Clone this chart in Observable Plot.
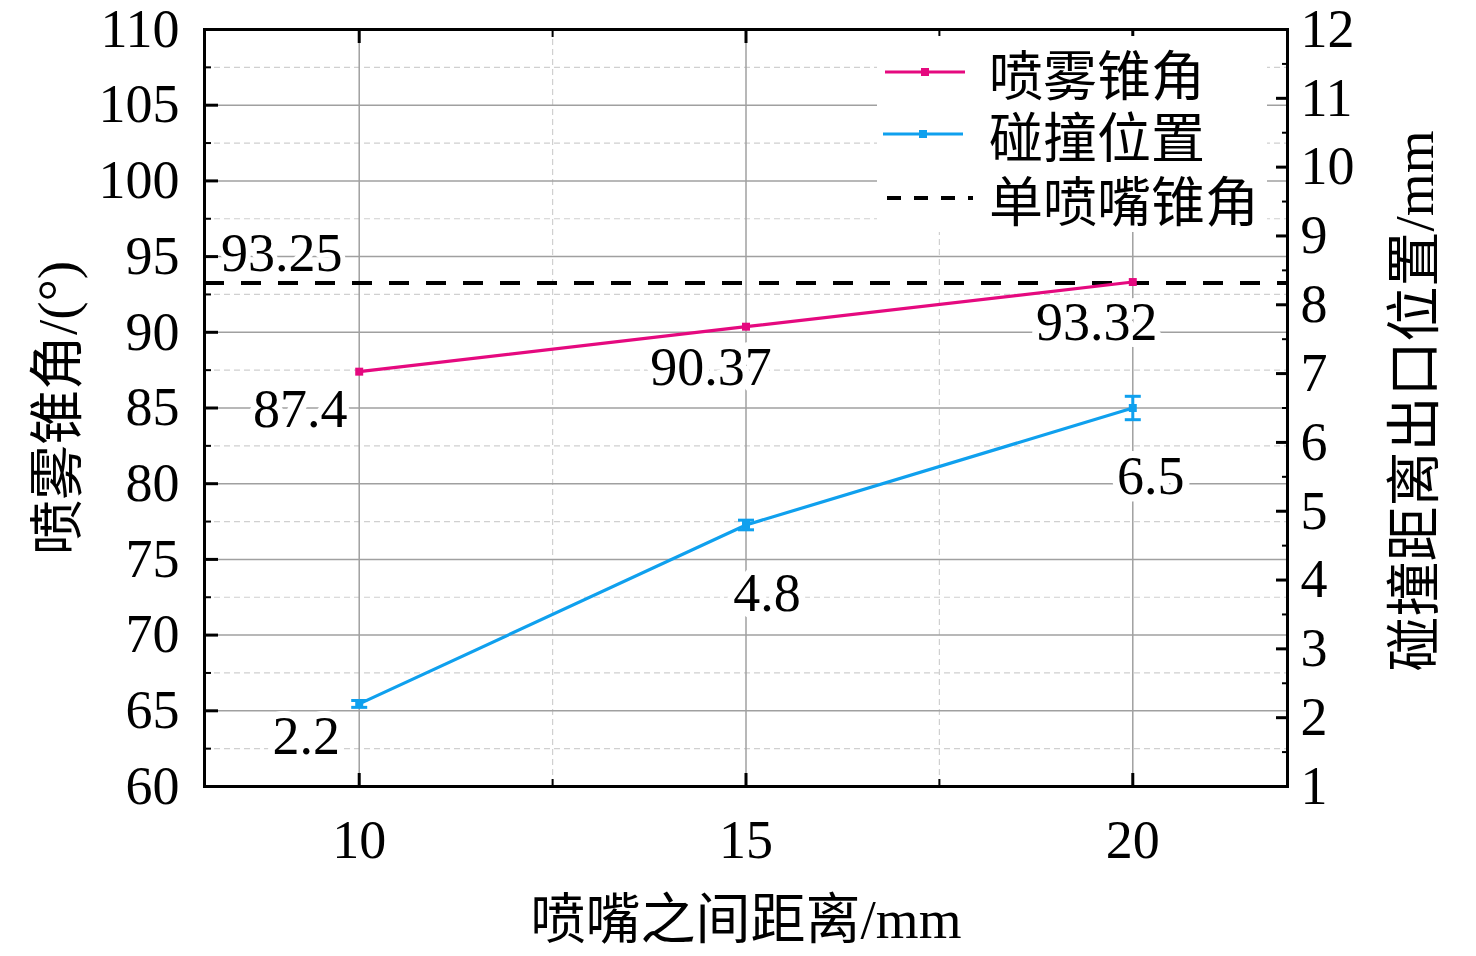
<!DOCTYPE html>
<html>
<head>
<meta charset="utf-8">
<script src="https://cdn.jsdelivr.net/npm/d3@7"></script>
<script src="https://cdn.jsdelivr.net/npm/@observablehq/plot@0.6"></script>
<style>
  body { margin: 0; background: #fff; }
  #wrap { position: relative; width: 1476px; height: 956px; }
  #legend { position: absolute; left: 877px; top: 36px; width: 390px; height: 196px; background: #fff;
    font-family: "Liberation Serif", "Noto Sans CJK SC", serif; font-size: 54px; color: #000; }
  #legend .row { position: absolute; left: 0; height: 60px; display: flex; align-items: center; }
  #legend svg { width: 100px; height: 20px; margin-right: 12px; }
</style>
</head>
<body>
<div id="wrap"><div id="legend"></div></div>
<script>
// ---- data ----
const distances = [10, 15, 20];
const sprayAngle = [87.4, 90.37, 93.32];
const impactPos = [2.2, 4.8, 6.5];
const impactErr = [0.05, 0.07, 0.17];
const singleNozzleAngle = 93.25;
const angleLabels = ["87.4", "90.37", "93.32"];
const posLabels = ["2.2", "4.8", "6.5"];
const singleLabel = "93.25";
const xTicks = [10, 15, 20];
const xMinorTicks = [12.5, 17.5];
const yLeftTicks = [60, 65, 70, 75, 80, 85, 90, 95, 100, 105, 110];
const yLeftMinorTicks = [62.5, 67.5, 72.5, 77.5, 82.5, 87.5, 92.5, 97.5, 102.5, 107.5];
const yRightTicks = [1, 2, 3, 4, 5, 6, 7, 8, 9, 10, 11, 12];
const yRightMinorTicks = [1.5, 2.5, 3.5, 4.5, 5.5, 6.5, 7.5, 8.5, 9.5, 10.5, 11.5];
const legendLabels = ["喷雾锥角", "碰撞位置", "单喷嘴锥角"];
const xTitle = "喷嘴之间距离/mm";
const yLeftTitle = "喷雾锥角/(°)";
const yRightTitle = "碰撞距离出口位置/mm";

// ---- styles ----
const PINK = "#E5097F", BLUE = "#0FA0EE";
const FONT = "Liberation Serif, Noto Sans CJK SC, serif";
const FS = 54;
const angleOffsets = [[-59, 38], [-35, 41], [-36, 41]];
const posOffsets = [[-53, 33], [21, 69], [18, 69]];

// scale mapping for right axis
const L0 = 60, L1 = 110, R0 = 1, R1 = 12;
const toLeft = r => L0 + (r - R0) * (L1 - L0) / (R1 - R0);
const fromLeft = l => R0 + (l - L0) * (R1 - R0) / (L1 - L0);

const angleData = distances.map((d, i) => ({x: d, y: sprayAngle[i], label: angleLabels[i]}));
const posData = distances.map((d, i) => ({x: d, y: toLeft(impactPos[i]),
  lo: toLeft(impactPos[i] - impactErr[i]), hi: toLeft(impactPos[i] + impactErr[i]), label: posLabels[i]}));

const capSymbol = {draw(ctx, size) { const r = Math.sqrt(size / Math.PI); ctx.moveTo(-r, 0); ctx.lineTo(r, 0); }};

const labelMarks = [];
angleData.forEach((d, i) => labelMarks.push(Plot.text([d], {x: "x", y: "y", text: "label",
  dx: angleOffsets[i][0], dy: angleOffsets[i][1], fontSize: FS, fontFamily: FONT, fill: "black",
  stroke: "white", strokeWidth: 14, paintOrder: "stroke"})));
posData.forEach((d, i) => labelMarks.push(Plot.text([d], {x: "x", y: "y", text: "label",
  dx: posOffsets[i][0], dy: posOffsets[i][1], fontSize: FS, fontFamily: FONT, fill: "black",
  stroke: "white", strokeWidth: 14, paintOrder: "stroke"})));
labelMarks.push(Plot.text([{x: 9, y: singleNozzleAngle, label: singleLabel}], {x: "x", y: "y", text: "label",
  dy: -29, fontSize: FS, fontFamily: FONT, fill: "black", stroke: "white", strokeWidth: 10, paintOrder: "stroke"}));

const chart = Plot.plot({
  width: 1476, height: 956,
  marginLeft: 204, marginRight: 189, marginTop: 29, marginBottom: 170,
  style: {background: "white", fontFamily: FONT, overflow: "visible"},
  x: {domain: [8, 22]},
  y: {domain: [L0, L1]},
  marks: [
    Plot.gridX(xMinorTicks, {stroke: "#d0d0d0", strokeOpacity: 1, strokeWidth: 1.2, strokeDasharray: "6,4"}),
    Plot.gridY(yLeftMinorTicks, {stroke: "#d0d0d0", strokeOpacity: 1, strokeWidth: 1.2, strokeDasharray: "6,4"}),
    Plot.gridX(xTicks, {stroke: "#a0a0a0", strokeOpacity: 1, strokeWidth: 1.5}),
    Plot.gridY(yLeftTicks, {stroke: "#a0a0a0", strokeOpacity: 1, strokeWidth: 1.5}),
    ...labelMarks,
    Plot.ruleY([singleNozzleAngle], {stroke: "black", strokeWidth: 4, strokeDasharray: "20,17"}),
    Plot.line(angleData, {x: "x", y: "y", stroke: PINK, strokeWidth: 3.2}),
    Plot.dot(angleData, {x: "x", y: "y", symbol: "square", r: 4.5, fill: PINK}),
    Plot.line(posData, {x: "x", y: "y", stroke: BLUE, strokeWidth: 3.2}),
    Plot.ruleX(posData, {x: "x", y1: "lo", y2: "hi", stroke: BLUE, strokeWidth: 3}),
    Plot.dot(posData, {x: "x", y: "lo", symbol: capSymbol, r: 8, stroke: BLUE, strokeWidth: 3}),
    Plot.dot(posData, {x: "x", y: "hi", symbol: capSymbol, r: 8, stroke: BLUE, strokeWidth: 3}),
    Plot.dot(posData, {x: "x", y: "y", symbol: "square", r: 4.5, fill: BLUE}),
    // inward ticks
    Plot.axisX(xTicks, {anchor: "bottom", tickSize: -13, strokeWidth: 3, tickFormat: () => "", label: null}),
    Plot.axisX(xMinorTicks, {anchor: "bottom", tickSize: -7, strokeWidth: 2, tickFormat: () => "", label: null}),
    Plot.axisX(xTicks, {anchor: "top", tickSize: -13, strokeWidth: 3, tickFormat: () => "", label: null}),
    Plot.axisX(xMinorTicks, {anchor: "top", tickSize: -7, strokeWidth: 2, tickFormat: () => "", label: null}),
    Plot.axisY(yLeftTicks, {anchor: "left", tickSize: -14, strokeWidth: 3, tickFormat: () => "", label: null}),
    Plot.axisY(yLeftMinorTicks, {anchor: "left", tickSize: -7, strokeWidth: 2, tickFormat: () => "", label: null}),
    Plot.axisY(yRightTicks.map(toLeft), {anchor: "right", tickSize: -12, strokeWidth: 3, tickFormat: () => "", label: null}),
    Plot.axisY(yRightMinorTicks.map(toLeft), {anchor: "right", tickSize: -6, strokeWidth: 2, tickFormat: () => "", label: null}),
    // tick labels
    Plot.axisX(xTicks, {anchor: "bottom", tickSize: 0, tickPadding: 33, fontSize: FS, fontFamily: FONT, fill: "black", label: null}),
    Plot.axisY(yLeftTicks, {anchor: "left", tickSize: 0, tickPadding: 25, fontSize: FS, fontFamily: FONT, fill: "black", label: null}),
    Plot.axisY(yRightTicks.map(toLeft), {anchor: "right", tickSize: 0, tickPadding: 13, fontSize: FS, fontFamily: FONT, fill: "black",
      tickFormat: d => String(Math.round(fromLeft(d))), label: null}),
    // titles
    Plot.text([xTitle], {frameAnchor: "bottom", dy: 134, lineAnchor: "middle", textAnchor: "middle", fontSize: 55, fontFamily: FONT, fill: "black"}),
    Plot.text([yLeftTitle], {frameAnchor: "left", dx: -146, rotate: -90, textAnchor: "middle", lineAnchor: "middle", fontSize: 55, fontFamily: FONT, fill: "black"}),
    Plot.text([yRightTitle], {frameAnchor: "right", dx: 128, dy: -7, rotate: -90, textAnchor: "middle", lineAnchor: "middle", fontSize: 55, fontFamily: FONT, fill: "black"}),
    Plot.frame({stroke: "black", strokeWidth: 3})
  ]
});
document.getElementById("wrap").prepend(chart);

// legend
const legend = document.getElementById("legend");
const swatches = [
  `<svg viewBox="0 0 100 20"><line x1="8" y1="10" x2="88" y2="10" stroke="${PINK}" stroke-width="3"/><rect x="44" y="6" width="8" height="8" fill="${PINK}"/></svg>`,
  `<svg viewBox="0 0 100 20"><line x1="6" y1="10" x2="86" y2="10" stroke="${BLUE}" stroke-width="3"/><rect x="42" y="6" width="8" height="8" fill="${BLUE}"/></svg>`,
  `<svg viewBox="0 0 100 20"><line x1="10" y1="10" x2="96" y2="10" stroke="black" stroke-width="4" stroke-dasharray="14,13"/></svg>`
];
const rowTops = [6, 68, 132];
legendLabels.forEach((t, i) => {
  const row = document.createElement("div");
  row.className = "row";
  row.style.top = rowTops[i] + "px";
  row.innerHTML = swatches[i] + `<span>${t}</span>`;
  legend.appendChild(row);
});
</script>
</body>
</html>
